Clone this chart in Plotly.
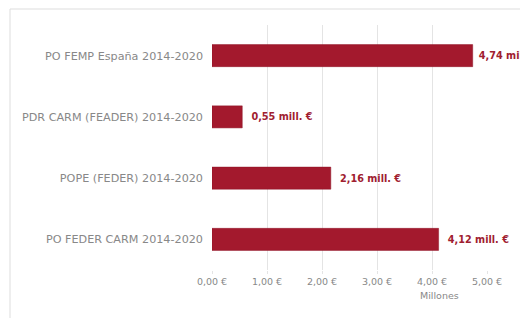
import plotly.graph_objects as go

categories = ["PO FEMP España 2014-2020", "PDR CARM (FEADER) 2014-2020",
              "POPE (FEDER) 2014-2020", "PO FEDER CARM 2014-2020"]
values = [4.74, 0.55, 2.16, 4.12]
labels = ["4,74 mill. €", "0,55 mill. €", "2,16 mill. €", "4,12 mill. €"]
tick_vals = [0, 1, 2, 3, 4, 5]
tick_text = ["0,00 €", "1,00 €", "2,00 €", "3,00 €", "4,00 €", "5,00 €"]

# page body margin offsets the figure by 8px
OFF = 8
W, H = 528, 318
L, T = 212 - OFF, 25 - OFF
pw, ph = 275, 245
R = W - L - pw
B = H - T - ph

def px(x):
    return (x - OFF - L) / pw

def py(y):
    return (H - B - (y - OFF)) / ph

bar_color = "#a3192d"
FONT = "DejaVu Sans"

# the longest bar's label sits a little closer to its bar
templates = ["\u00a0<b>%{text}</b>"] + ["\u00a0\u00a0<b>%{text}</b>"] * (len(labels) - 1)

fig = go.Figure(go.Bar(
    y=categories, x=values, orientation="h",
    marker=dict(color=bar_color, line=dict(color="#8e1526", width=0.5)),
    text=labels, textposition="outside", cliponaxis=False,
    textfont=dict(color="#a0202f", size=9.7, family=FONT),
    texttemplate=templates,
    width=0.36,
))

fig.update_layout(
    width=W, height=H,
    margin=dict(l=L, r=R, t=T, b=B),
    paper_bgcolor="white", plot_bgcolor="white",
    showlegend=False,
    font=dict(family=FONT, color="#808080", size=10),
    xaxis=dict(range=[0, 5], tickvals=tick_vals, ticktext=tick_text,
               showgrid=True, gridcolor="#e4e4e4", gridwidth=1,
               zeroline=False, showline=False,
               tickfont=dict(size=9.5, color="#888888"), ticks="outside",
               ticklen=3, tickcolor="#e4e4e4"),
    yaxis=dict(autorange="reversed", showgrid=False, zeroline=False,
               tickfont=dict(size=11.2, color="#888888"), ticklabelstandoff=8),
    shapes=[dict(type="rect", xref="paper", yref="paper",
                 x0=px(10), x1=px(545), y0=py(340), y1=py(9),
                 line=dict(color="#dddddd", width=1), layer="below")],
    annotations=[dict(text="Millones", xref="paper", yref="paper",
                      x=px(461), y=py(303), showarrow=False,
                      font=dict(size=9.5, color="#888888"))],
)

fig.write_html("out.html")
